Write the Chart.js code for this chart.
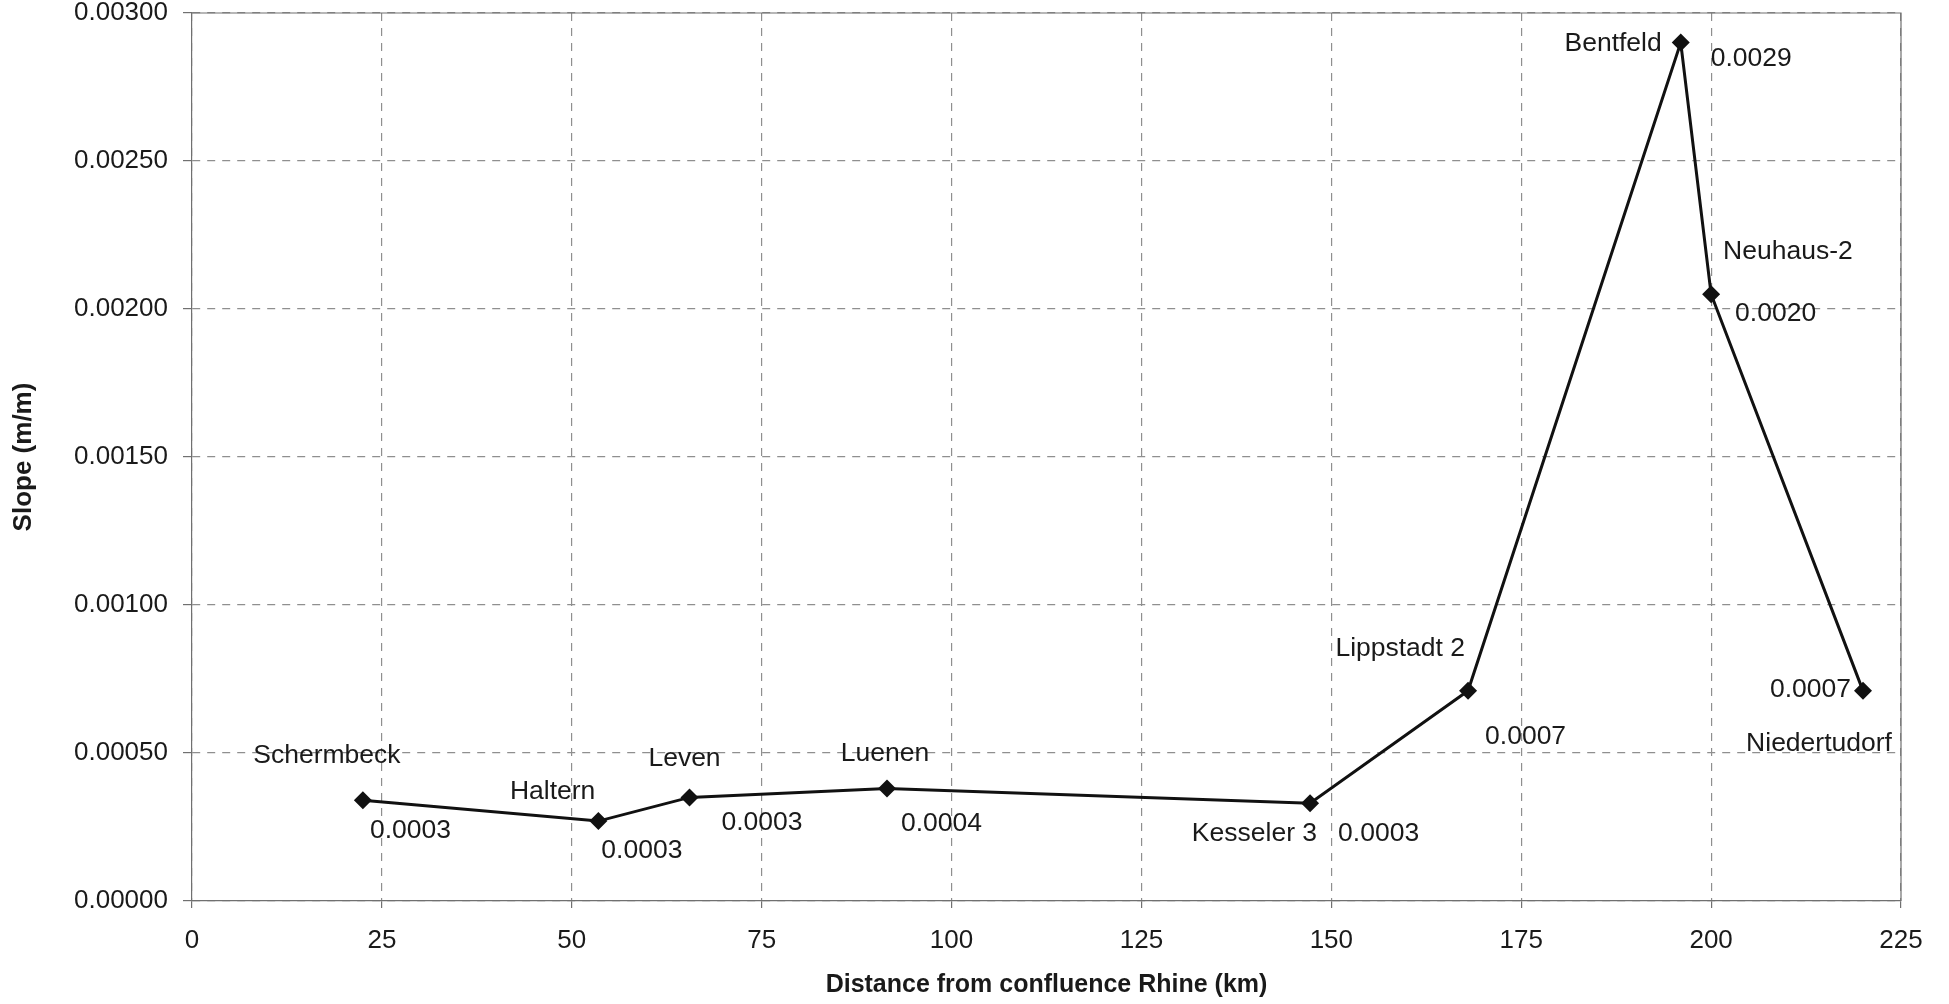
<!DOCTYPE html>
<html>
<head>
<meta charset="utf-8">
<script src="https://cdn.jsdelivr.net/npm/chart.js@4"></script>
<style>
  html, body { margin: 0; padding: 0; background: #ffffff; }
  #wrap { width: 1949px; height: 1004px; position: relative; }
</style>
</head>
<body>
<div id="wrap"><canvas id="slope"></canvas></div>
<script>
// measuring stations along the Lippe
const stations = ['Schermbeck', 'Haltern', 'Leven', 'Luenen', 'Kesseler 3', 'Lippstadt 2', 'Bentfeld', 'Neuhaus-2', 'Niedertudorf'];
const distanceKm = [22.5, 53.5, 65.5, 91.5, 147.2, 168, 196, 200, 220];
const slope = [0.00034, 0.00027, 0.00035, 0.00038, 0.00033, 0.00071, 0.0029, 0.00205, 0.00071];
const slopeText = ['0.0003', '0.0003', '0.0003', '0.0004', '0.0003', '0.0007', '0.0029', '0.0020', '0.0007'];

const xMin = 0, xMax = 225, xStep = 25;
const yMin = 0, yMax = 0.003, yStep = 0.0005;

// where each label sits relative to its point: [dx, dy, align]
const namePos = [
    [-36, -45, 'center'], [-3, -29, 'right'], [-5, -39, 'center'], [-2, -35, 'center'],
    [7, 30, 'right'], [-3, -42, 'right'], [-19, 1, 'right'], [12, -43, 'left'], [-44, 53, 'center']
];
const valuePos = [
    [7, 30, 'left'], [3, 30, 'left'], [32, 25, 'left'], [14, 35, 'left'],
    [28, 30, 'left'], [17, 46, 'left'], [30, 16, 'left'], [24, 19, 'left'], [-12, -1, 'right']
];

const FONT = "'Liberation Sans', Arial, sans-serif";
const gridColor = '#8f8f8f';
const axisColor = '#707070';

// point labels (station name + value)
const pointLabels = {
    id: 'pointLabels',
    afterDatasetsDraw(chart) {
        const ctx = chart.ctx;
        const pts = chart.getDatasetMeta(0).data;
        ctx.save();
        ctx.fillStyle = '#1a1a1a';
        ctx.font = '26.5px ' + FONT;
        ctx.textBaseline = 'middle';
        pts.forEach((p, i) => {
            ctx.textAlign = namePos[i][2];
            ctx.fillText(stations[i], p.x + namePos[i][0], p.y + namePos[i][1]);
            ctx.textAlign = valuePos[i][2];
            ctx.fillText(slopeText[i], p.x + valuePos[i][0], p.y + valuePos[i][1]);
        });
        ctx.restore();
    }
};

// solid frame on top and right side of plot
const frame = {
    id: 'frame',
    beforeDatasetsDraw(chart) {
        const {ctx, chartArea: a} = chart;
        ctx.save();
        ctx.strokeStyle = axisColor;
        ctx.lineWidth = 1.2;
        ctx.beginPath();
        ctx.moveTo(a.left, a.top);
        ctx.lineTo(a.right, a.top);
        ctx.lineTo(a.right, a.bottom);
        ctx.stroke();
        ctx.restore();
    }
};

new Chart(document.getElementById('slope'), {
    type: 'scatter',
    data: {
        datasets: [{
            data: distanceKm.map((d, i) => ({x: d, y: slope[i]})),
            showLine: true,
            borderColor: '#111111',
            borderWidth: 3,
            backgroundColor: '#111111',
            pointStyle: 'rectRot',
            pointRadius: 9,
            pointBorderWidth: 0,
            tension: 0,
            clip: false
        }]
    },
    options: {
        responsive: true,
        maintainAspectRatio: false,
        animation: false,
        layout: { padding: { top: 0, right: 48, left: 0, bottom: 0 } },
        plugins: {
            legend: { display: false },
            tooltip: { enabled: false }
        },
        scales: {
            x: {
                type: 'linear',
                min: xMin,
                max: xMax,
                ticks: {
                    stepSize: xStep,
                    color: '#1a1a1a',
                    font: { family: FONT, size: 26, lineHeight: 1 },
                    padding: 20,
                    maxRotation: 0
                },
                grid: {
                    color: gridColor,
                    lineWidth: 1.2,
                    tickLength: 7,
                    tickColor: axisColor,
                    tickBorderDash: []
                },
                border: { display: true, color: axisColor, width: 1.2, dash: [8, 7] },
                title: {
                    display: true,
                    text: 'Distance from confluence Rhine (km)',
                    color: '#1a1a1a',
                    font: { family: FONT, size: 25, weight: 'bold' },
                    padding: { top: 0, bottom: 4 }
                },
                afterFit(scale) { scale.height = 103; }
            },
            y: {
                type: 'linear',
                min: yMin,
                max: yMax,
                ticks: {
                    stepSize: yStep,
                    color: '#1a1a1a',
                    font: { family: FONT, size: 26, lineHeight: 1 },
                    padding: 15,
                    callback: v => v.toFixed(5)
                },
                grid: {
                    color: gridColor,
                    lineWidth: 1.2,
                    tickLength: 9,
                    tickColor: axisColor,
                    tickBorderDash: []
                },
                border: { display: true, color: axisColor, width: 1.2, dash: [8, 7] },
                title: {
                    display: true,
                    text: 'Slope (m/m)',
                    color: '#1a1a1a',
                    font: { family: FONT, size: 26, weight: 'bold' },
                    padding: { top: 8, bottom: 0 }
                },
                afterFit(scale) {
                    scale.width = 192;
                    scale.paddingTop = 13;
                    scale.paddingBottom = 13;
                }
            }
        }
    },
    plugins: [frame, pointLabels]
});
</script>
</body>
</html>
